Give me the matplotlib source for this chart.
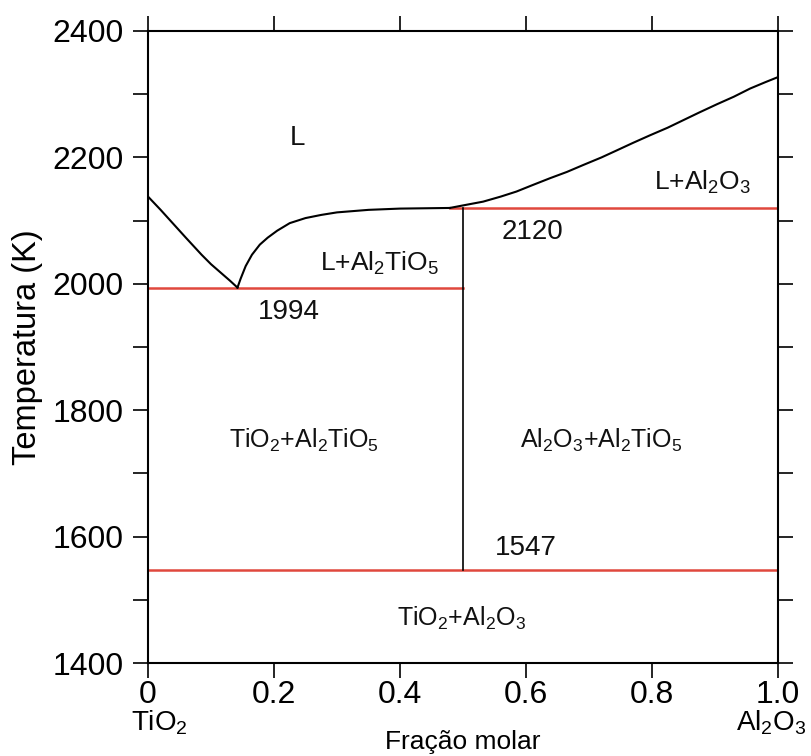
import matplotlib
matplotlib.use("Agg")
import matplotlib.pyplot as plt
import numpy as np

plt.rcParams['font.family'] = ['Liberation Sans', 'DejaVu Sans']
plt.rcParams['mathtext.default'] = 'regular'

# Liquidus, TiO2-rich side (down to eutectic)
liq_left_x = [0.0, 0.02, 0.04, 0.06, 0.085, 0.10, 0.115, 0.13, 0.142]
liq_left_T = [2138, 2117, 2095, 2073, 2046, 2031, 2018, 2005, 1994]
# Liquidus from eutectic up to peritectic
liq_mid_x = [0.142, 0.147, 0.155, 0.165, 0.1775, 0.19, 0.205, 0.225, 0.25,
             0.275, 0.30, 0.35, 0.40, 0.479]
liq_mid_T = [1994, 2008, 2028, 2046, 2062, 2073, 2084, 2096, 2104,
             2109, 2113, 2117, 2119, 2120]
# Liquidus, Al2O3-rich side
liq_right_x = [0.479, 0.50, 0.532, 0.56, 0.585, 0.61, 0.638, 0.665, 0.691, 0.72,
               0.744, 0.77, 0.797, 0.825, 0.85, 0.875, 0.903, 0.93, 0.956, 0.98, 1.0]
liq_right_T = [2120, 2124, 2130, 2138, 2146, 2156, 2167, 2177, 2188, 2200,
               2211, 2223, 2235, 2247, 2259, 2271, 2284, 2296, 2309, 2319, 2327]

# Invariant isotherms (red): (x_start, x_end, T)
iso_x0 = [0.0, 0.479, 0.0]
iso_x1 = [0.5, 1.0, 1.0]
iso_T = [1994, 2120, 1547]

# Al2TiO5 compound line
comp_x = 0.5
comp_T = [1547, 2120]

labels = ['L', 'L+Al$_2$TiO$_5$', 'L+Al$_2$O$_3$', 'TiO$_2$+Al$_2$TiO$_5$',
          'Al$_2$O$_3$+Al$_2$TiO$_5$', 'TiO$_2$+Al$_2$O$_3$', '1994', '2120', '1547']
label_x = [0.237, 0.367, 0.88, 0.248, 0.719, 0.498, 0.224, 0.61, 0.60]
label_T = [2231, 2033, 2161, 1753, 1753, 1471, 1955, 2082, 1582]
label_fs = [20, 19, 19, 18, 18, 18, 20, 20, 20]

xticks = [0, 0.2, 0.4, 0.6, 0.8, 1.0]
xticklabels = ['0', '0.2', '0.4', '0.6', '0.8', '1.0']
yticks = [1400, 1600, 1800, 2000, 2200, 2400]

fig = plt.figure(figsize=(8.12, 7.56), dpi=100)
ax = fig.add_axes([0.1823, 0.123, 0.958 - 0.1823, 0.959 - 0.123])

red = '#e0483d'
for x0, x1, T in zip(iso_x0, iso_x1, iso_T):
    ax.plot([x0, x1], [T, T], color=red, lw=1.8, zorder=2)
ax.plot([comp_x, comp_x], comp_T, color='black', lw=1.2, zorder=3)
ax.plot(liq_left_x, liq_left_T, color='black', lw=1.5, zorder=3)
ax.plot(liq_mid_x, liq_mid_T, color='black', lw=1.5, zorder=3)
ax.plot(liq_right_x, liq_right_T, color='black', lw=1.5, zorder=3)

for s, x, T, fs in zip(labels, label_x, label_T, label_fs):
    ax.text(x, T, s, fontsize=fs, ha='center', va='center', color='#111111')

ax.set_xlim(0, 1)
ax.set_ylim(1400, 2400)
ax.set_xticks(xticks)
ax.set_xticklabels(xticklabels)
ax.set_yticks(yticks)
ax.set_yticks(np.arange(1500, 2400, 200), minor=True)

ax.tick_params(axis='both', which='both', direction='out', length=10.5, width=1.2,
               colors='black', labelsize=23)
ax.tick_params(axis='x', which='major', pad=2, top=True, labeltop=False)
ax.tick_params(axis='y', which='both', pad=7, right=True, labelright=False)
for sp in ax.spines.values():
    sp.set_linewidth(1.5)

ax.set_ylabel('Temperatura (K)', fontsize=23.5, labelpad=7)
ax.set_xlabel('Fração molar', fontsize=19, labelpad=14)
ax.text(0.018, -0.095, 'TiO$_2$', transform=ax.transAxes, fontsize=20,
        ha='center', va='center')
ax.text(0.99, -0.095, 'Al$_2$O$_3$', transform=ax.transAxes, fontsize=20,
        ha='center', va='center')

fig.savefig('out.png', dpi=100)
